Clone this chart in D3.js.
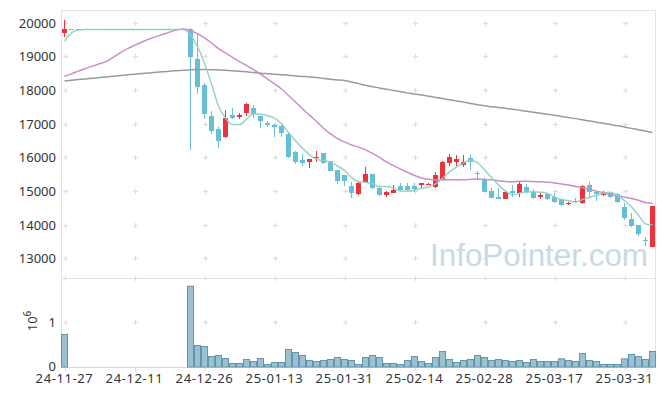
<!DOCTYPE html>
<html><head><meta charset="utf-8">
<script src="https://cdn.jsdelivr.net/npm/d3@7/dist/d3.min.js"></script>
<style>html,body{margin:0;padding:0;background:#fff;}svg{display:block;}</style>
</head><body>
<svg id="chart" width="665" height="396"></svg>
<script>
const dates = ["24-11-27","24-11-28","24-11-29","24-12-02","24-12-03","24-12-04","24-12-05","24-12-06","24-12-09","24-12-10",
"24-12-11","24-12-12","24-12-13","24-12-16","24-12-17","24-12-18","24-12-19","24-12-20","24-12-23","24-12-24",
"24-12-26","24-12-27","24-12-30","25-01-02","25-01-03","25-01-06","25-01-07","25-01-08","25-01-09","25-01-10",
"25-01-13","25-01-14","25-01-15","25-01-16","25-01-17","25-01-20","25-01-21","25-01-22","25-01-23","25-01-24",
"25-01-31","25-02-03","25-02-04","25-02-05","25-02-06","25-02-07","25-02-10","25-02-11","25-02-12","25-02-13",
"25-02-14","25-02-17","25-02-18","25-02-19","25-02-20","25-02-21","25-02-24","25-02-25","25-02-26","25-02-27",
"25-02-28","25-03-04","25-03-05","25-03-06","25-03-07","25-03-10","25-03-11","25-03-12","25-03-13","25-03-14",
"25-03-17","25-03-18","25-03-19","25-03-20","25-03-21","25-03-24","25-03-25","25-03-26","25-03-27","25-03-28",
"25-03-31","25-04-01","25-04-02","25-04-03","25-04-04"];

const openV = [19680,19800,19800,19800,19800,19800,19800,19800,19800,19800,19800,19800,19800,19800,19800,19800,19800,19800,
19804,18913,18150,17229,16843,16614,17259,17210,17318,17467,17220,17021,16962,16932,16694,16151,15931,15872,15982,16121,15892,15625,
15477,15150,14911,15269,15497,15100,14883,14951,15150,15150,15150,15180,15180,15130,15358,15824,15872,15774,15973,15527,
15367,15001,14832,14773,14990,14932,15111,14962,14814,14912,14832,14755,14606,14714,14654,15180,14962,14883,14932,14903,
14517,14170,13991,13554,13347];
const highV = [20080,19800,19800,19800,19800,19800,19800,19800,19800,19800,19800,19800,19800,19800,19800,19800,19800,19800,
19830,19664,18218,17386,16893,17407,17457,17318,17606,17547,17230,17080,16991,16991,16763,16180,16091,15961,16190,16130,15900,15630,
15480,15278,15260,15705,15500,15110,15010,15170,15248,15248,15248,15250,15240,15557,15901,16091,16071,16071,16071,15596,
15390,15100,15082,15010,15180,15278,15209,15052,14933,14940,14951,14770,14684,14784,15180,15278,15010,14990,14960,14932,
14636,14357,14000,13644,14560];
const lowV = [19575,19800,19800,19800,19800,19800,19800,19800,19800,19800,19800,19800,19800,19800,19800,19800,19800,19800,
16219,17882,17131,16694,16270,16567,17149,17149,17220,17178,16881,16893,16614,16596,15973,15803,15753,15676,15854,15795,15590,15218,
15150,14803,14890,15230,15050,14844,14832,14940,14990,15000,14972,15082,15170,15082,15340,15753,15744,15724,15625,15328,
14970,14780,14750,14753,14832,14833,14932,14753,14753,14730,14654,14565,14590,14636,14620,14833,14714,14850,14790,14636,
14140,13941,13665,13368,13340];
const closeV = [19800,19800,19800,19800,19800,19800,19800,19800,19800,19800,19800,19800,19800,19800,19800,19800,19800,19800,
18972,18099,17285,16784,16487,17170,17170,17259,17576,17297,17090,16962,16911,16715,16002,15872,15842,15961,16020,15824,15604,15307,
15307,14942,15239,15497,15082,14892,14962,15031,15031,15031,15061,15248,15218,15486,15863,16020,15951,15853,15872,15507,
14981,14785,14763,14962,14950,15209,14981,14803,14883,14754,14684,14586,14654,14666,15150,14981,14903,14962,14813,14684,
14209,13971,13716,13530,14556];
const volumeV = [733000,0,0,0,0,0,0,0,0,0,0,0,0,0,0,0,0,0,
1807000,489000,467000,244000,267000,200000,89000,89000,178000,133000,200000,67000,111000,111000,400000,333000,267000,156000,133000,156000,178000,222000,
178000,156000,67000,222000,267000,222000,89000,89000,67000,156000,244000,133000,89000,222000,356000,178000,111000,156000,178000,267000,
222000,156000,178000,156000,133000,156000,111000,178000,133000,133000,133000,192000,156000,133000,311000,156000,133000,67000,67000,67000,
192000,289000,244000,178000,356000];
const ma5 = [19450,19700,19780,19800,19800,19800,19800,19800,19800,19800,19800,19800,19800,19800,19800,19800,19800,19800,
19634,19294,18791,18188,17525,17165,16979,16974,17132,17294,17278,17237,17167,16995,16736,16492,16268,16078,15939,15904,15850,15743,
15612,15397,15280,15258,15213,15130,15134,15093,15000,14989,15023,15080,15118,15209,15375,15567,15708,15835,15912,15841,
15633,15400,15182,15000,14888,14934,14973,14981,14965,14926,14821,14742,14712,14669,14748,14807,14871,14932,14962,14869,
14714,14528,14279,14022,13996];
const ma20 = [18408,18480,18560,18640,18710,18780,18850,18980,19110,19230,19330,19420,19510,19580,19650,19720,19780,19810,
19760,19674,19548,19397,19231,19100,18968,18841,18730,18605,18469,18328,18183,18029,17839,17643,17445,17253,17064,16865,16697,16557,
16458,16366,16304,16220,16115,15997,15866,15753,15650,15554,15461,15388,15349,15329,15330,15333,15330,15331,15345,15355,
15338,15331,15307,15280,15273,15289,15290,15279,15271,15258,15239,15206,15177,15136,15101,15049,14996,14952,14899,14858,
14819,14778,14726,14654,14635];
const ma60 = [18268,18290,18310,18330,18350,18370,18390,18410,18430,18450,18470,18490,18505,18525,18540,18560,18575,18590,
18600,18610,18610,18605,18595,18585,18570,18560,18540,18520,18500,18485,18470,18455,18440,18420,18405,18390,18370,18345,18320,18300,
18280,18240,18190,18140,18100,18060,18020,17985,17950,17915,17880,17850,17815,17780,17745,17710,17675,17640,17600,17565,
17530,17505,17480,17455,17430,17400,17370,17340,17310,17280,17250,17215,17180,17150,17115,17080,17045,17010,16975,16940,
16900,16860,16820,16780,16740];
const priceTicks = [13000,14000,15000,16000,17000,18000,19000,20000];
const volTicks = [0,1000000];
const xTickIdx = [0,10,20,30,40,50,60,70,80];

const svg = d3.select("#chart");
const L = 61, R = 656, T = 10, MID = 278, B = 367;
const x = d3.scaleBand().domain(dates).range([L, R]).padding(0);
const cx = d => x(d) + x.bandwidth()/2;
const y = d3.scaleLinear().domain([13000, 20000]).range([258.3, 22.7]);
const yv = d3.scaleLinear().domain([0, 1000000]).range([B, B-45]);

const font = "'Noto Sans', 'DejaVu Sans', sans-serif";

// frame
const frame = svg.append("g").attr("stroke", "#e3e3e3").attr("stroke-width", 1).attr("shape-rendering","crispEdges");
frame.append("line").attr("x1", L).attr("x2", R).attr("y1", T+0.5).attr("y2", T+0.5);
frame.append("line").attr("x1", L).attr("x2", R).attr("y1", MID+0.5).attr("y2", MID+0.5);
frame.append("line").attr("x1", L+0.5).attr("x2", L+0.5).attr("y1", T).attr("y2", B+1);
frame.append("line").attr("x1", R-0.5).attr("x2", R-0.5).attr("y1", T).attr("y2", B+1);
frame.append("line").attr("x1", L).attr("x2", R).attr("y1", B+0.5).attr("y2", B+0.5).attr("stroke","#d6d6d6");

// grid crosses
const crossY = priceTicks.map(v => y(v)).concat([MID, yv(1000000)]);
const gGrid = svg.append("g").attr("stroke", "#dcdcdc").attr("stroke-width", 1).attr("shape-rendering","crispEdges");
xTickIdx.forEach(i => {
  const xx = Math.round(cx(dates[i])) + 0.5;
  crossY.forEach(yy => {
    const y0 = Math.round(yy) + 0.5;
    gGrid.append("line").attr("x1", xx-2.5).attr("x2", xx+2.5).attr("y1", y0).attr("y2", y0);
    gGrid.append("line").attr("x1", xx).attr("x2", xx).attr("y1", y0-2.5).attr("y2", y0+2.5);
  });
  gGrid.append("line").attr("x1", xx).attr("x2", xx).attr("y1", B).attr("y2", B+4);
});

// watermark
svg.append("text").attr("x", 430).attr("y", 266).attr("font-family", "'Liberation Sans', Arial, sans-serif")
  .attr("font-size", 31).attr("fill", "#c9dae4").attr("textLength", 218).attr("lengthAdjust","spacingAndGlyphs")
  .text("InfoPointer.com");

// clip
svg.append("clipPath").attr("id","pclip").append("rect").attr("x", L).attr("y", T).attr("width", R-L).attr("height", MID-T);
const gp = svg.append("g").attr("clip-path","url(#pclip)");

const UP = "#ec323c", DOWN = "#67bed9";
const idx = d3.range(dates.length);
// candles
const gc = gp.append("g").attr("shape-rendering","crispEdges");
idx.forEach(i => {
  const up = closeV[i] > openV[i];
  const col = up ? UP : DOWN;
  const c = Math.floor(cx(dates[i]));
  gc.append("rect").attr("x", c).attr("width", 1)
    .attr("y", y(highV[i])).attr("height", Math.max(0.01, y(lowV[i]) - y(highV[i]))).attr("fill", col);
  const top = y(Math.max(openV[i], closeV[i])), bot = y(Math.min(openV[i], closeV[i]));
  gc.append("rect").attr("x", c-2).attr("width", 5)
    .attr("y", top).attr("height", Math.max(1, bot - top)).attr("fill", col);
});

// MA lines
const line = data => d3.line().x((d, i) => cx(dates[i])).y(d => y(d)).curve(d3.curveMonotoneX)(data);
gp.append("path").attr("d", line(ma60)).attr("fill","none").attr("stroke","#9a9a9a").attr("stroke-width",1.5);
gp.append("path").attr("d", line(ma20)).attr("fill","none").attr("stroke","#cc8ec8").attr("stroke-width",1.5);
gp.append("path").attr("d", line(ma5)).attr("fill","none").attr("stroke","#8ccfc0").attr("stroke-width",1.5).attr("stroke-opacity",0.9);

// volume bars
const gvb = svg.append("g");
idx.forEach(i => {
  if (volumeV[i] <= 0) return;
  gvb.append("rect").attr("x", x(dates[i]) + 0.5).attr("width", x.bandwidth() - 1)
    .attr("y", yv(volumeV[i]) + 0.5).attr("height", B - yv(volumeV[i]) - 0.5)
    .attr("fill", "#9bc1d1").attr("stroke", "#6396ad").attr("stroke-width", 1);
});

// y labels
const gl = svg.append("g").attr("font-family", font).attr("font-size", 13).attr("fill", "#333");
priceTicks.forEach(v => {
  gl.append("text").attr("x", 56).attr("y", y(v)).attr("text-anchor","end").attr("dominant-baseline","central").text(v);
});
volTicks.forEach(v => {
  gl.append("text").attr("x", 56).attr("y", yv(v) - (v === 0 ? 1 : 0)).attr("text-anchor","end").attr("dominant-baseline","central").text(v/1000000);
});
const ex = gl.append("text").attr("transform", "translate(37,321) rotate(-90)").attr("text-anchor","middle");
ex.append("tspan").text("10");
ex.append("tspan").attr("dy", -6).attr("font-size", 10).text("6");

// x labels
xTickIdx.forEach(i => {
  gl.append("text").attr("x", cx(dates[i])).attr("y", 382.5).attr("text-anchor","middle")
    .attr("letter-spacing", 0.6).text(dates[i]);
});
</script>
</body></html>
